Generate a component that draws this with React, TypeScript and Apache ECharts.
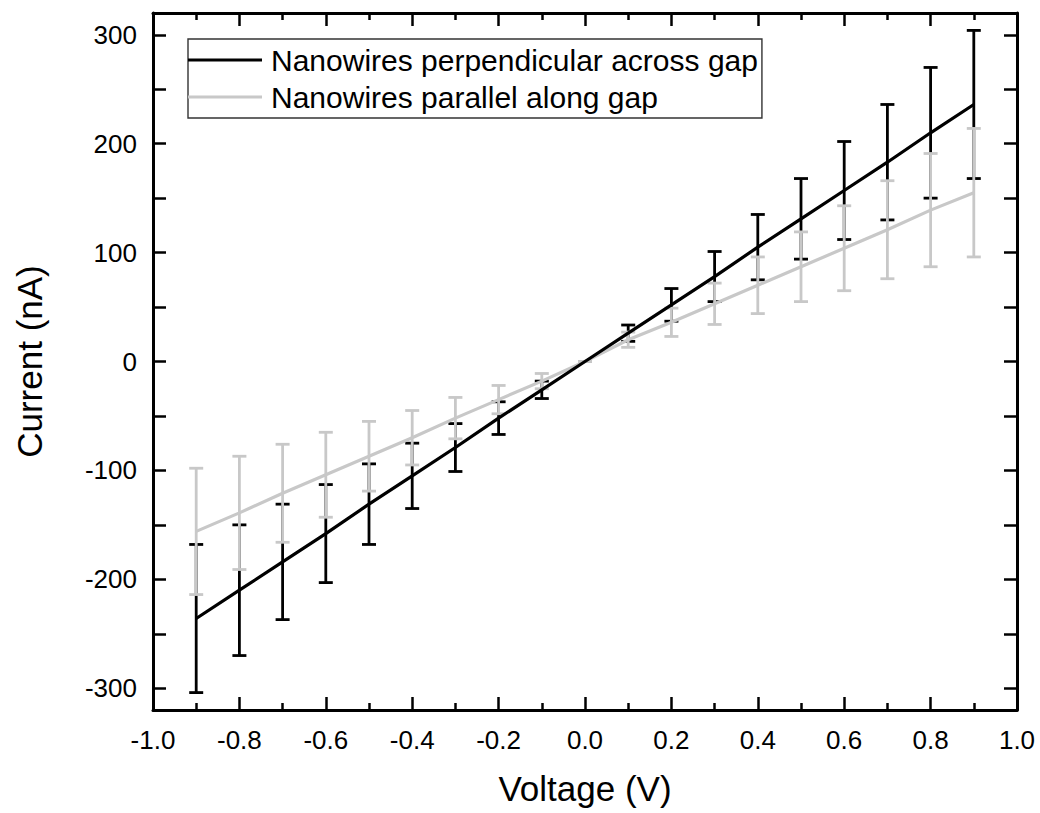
import React, { useEffect, useRef } from "react";
import * as echarts from "echarts";

const voltages = [-0.9, -0.8, -0.7, -0.6, -0.5, -0.4, -0.3, -0.2, -0.1, 0, 0.1, 0.2, 0.3, 0.4, 0.5, 0.6, 0.7, 0.8, 0.9];
const perpCurrent = [-236, -210, -184, -158, -131, -105, -79, -52, -26, 0, 26, 52, 78, 105, 131, 157, 183, 210, 236];
const perpError = [68, 60, 53, 45, 37, 30, 22, 15, 8, 0, 7.5, 15, 23, 30, 37, 45, 53, 60, 68];
const paraCurrent = [-156, -139, -121, -104, -87, -70, -52, -35, -18, 0, 20, 36, 53, 70, 87, 104, 121, 139, 155];
const paraError = [58, 52, 45, 39, 32, 25, 19, 13, 7, 0, 7, 13, 19, 26, 32, 39, 45, 52, 59];
const yTickValues = [-300, -250, -200, -150, -100, -50, 0, 50, 100, 150, 200, 250, 300];
const yLabelValues = [-300, -200, -100, 0, 100, 200, 300];

const perpName = "Nanowires perpendicular across gap";
const paraName = "Nanowires parallel along gap";

const FONT = "'Liberation Sans', Arial, sans-serif";
const BLACK = "#000000";
const GRAY = "#c8c8c8";

export default function App() {
  const ref = useRef<HTMLDivElement>(null);

  useEffect(() => {
    const chart = echarts.init(ref.current!, null, { renderer: "svg" });

    const errSeries = (vals: number[], errs: number[], color: string, z: number) => ({
      type: "custom",
      z,
      silent: true,
      data: voltages.map((v, i) => [v, vals[i], errs[i]]),
      encode: { x: 0, y: 1 },
      renderItem: (_params: any, api: any) => {
        const x = api.value(0);
        const y = api.value(1);
        const e = api.value(2);
        const top = api.coord([x, y + e]);
        const bot = api.coord([x, y - e]);
        const hw = 7;
        const style = { stroke: color, lineWidth: 2.8 };
        return {
          type: "group",
          children: [
            { type: "line", shape: { x1: top[0], y1: top[1], x2: bot[0], y2: bot[1] }, style },
            { type: "line", shape: { x1: top[0] - hw, y1: top[1], x2: top[0] + hw, y2: top[1] }, style },
            { type: "line", shape: { x1: bot[0] - hw, y1: bot[1], x2: bot[0] + hw, y2: bot[1] }, style },
          ],
        };
      },
    });

    const axisLine = { show: true, onZero: false, lineStyle: { color: BLACK, width: 3 } };
    const xCommon = {
      type: "value",
      min: -1,
      max: 1,
      interval: 0.2,
      axisLine,
      axisTick: { show: true, inside: true, length: 13, lineStyle: { color: BLACK, width: 2.5 } },
      minorTick: { show: true, splitNumber: 2, length: 7, lineStyle: { color: BLACK, width: 2.5 } },
      splitLine: { show: false },
      minorSplitLine: { show: false },
    };
    const yCommon = {
      type: "value",
      min: -320,
      max: 320,
      axisLine,
      axisTick: { show: true, inside: true, length: 13, customValues: yTickValues, lineStyle: { color: BLACK, width: 2.5 } },
      splitLine: { show: false },
    };

    chart.setOption({
      animation: false,
      backgroundColor: "#ffffff",
      grid: { left: 153, right: 23, top: 13, bottom: 103, containLabel: false },
      legend: {
        data: [perpName, paraName],
        orient: "vertical",
        left: 188,
        top: 39,
        icon: "rect",
        borderColor: "#333333",
        borderWidth: 1.4,
        backgroundColor: "#ffffff",
        padding: [6, 4, 6, 0],
        itemWidth: 74,
        itemHeight: 3,
        itemGap: 7,
        textStyle: { fontSize: 30, color: BLACK, fontFamily: FONT, padding: [0, 0, 0, 4] },
      },
      xAxis: [
        {
          ...xCommon,
          position: "bottom",
          axisLabel: {
            show: true,
            fontSize: 26,
            color: BLACK,
            fontFamily: FONT,
            margin: 17,
            formatter: (v: number) => v.toFixed(1),
          },
          name: "Voltage (V)",
          nameLocation: "middle",
          nameGap: 61,
          nameTextStyle: { fontSize: 35, color: BLACK, fontFamily: FONT },
        },
        { ...xCommon, position: "top", axisLabel: { show: false } },
      ],
      yAxis: [
        {
          ...yCommon,
          position: "left",
          axisLabel: {
            show: true,
            customValues: yLabelValues,
            fontSize: 26,
            color: BLACK,
            fontFamily: FONT,
            margin: 16,
          },
          name: "Current (nA)",
          nameLocation: "middle",
          nameGap: 106,
          nameTextStyle: { fontSize: 35, color: BLACK, fontFamily: FONT },
        },
        { ...yCommon, position: "right", axisLabel: { show: false } },
      ],
      series: [
        errSeries(perpCurrent, perpError, BLACK, 2),
        errSeries(paraCurrent, paraError, GRAY, 3),
        {
          name: paraName,
          type: "line",
          z: 4,
          symbol: "none",
          data: voltages.map((v, i) => [v, paraCurrent[i]]),
          lineStyle: { color: GRAY, width: 3.2 },
          itemStyle: { color: GRAY },
        },
        {
          name: perpName,
          type: "line",
          z: 5,
          symbol: "none",
          data: voltages.map((v, i) => [v, perpCurrent[i]]),
          lineStyle: { color: BLACK, width: 3.2 },
          itemStyle: { color: BLACK },
        },
      ],
    });

    return () => chart.dispose();
  }, []);

  return (
    <div
      ref={ref}
      style={{ position: "fixed", left: 0, top: 0, width: 1040, height: 813, background: "#fff" }}
    />
  );
}
